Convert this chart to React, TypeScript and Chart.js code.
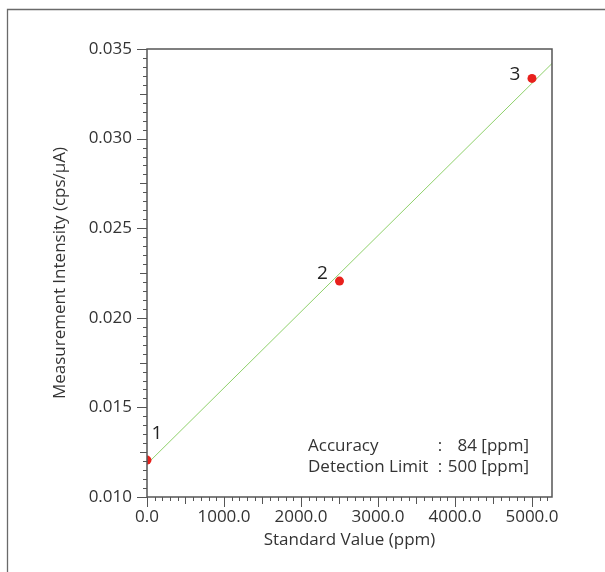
import React, { useEffect, useRef } from "react";
import { Chart, registerables } from "chart.js";

Chart.register(...registerables);

// ---- data ----
const standardValues = [0, 2500, 5000];
const intensities = [0.01206, 0.02205, 0.03336];
const pointLabels = ["1", "2", "3"];
const fitLineX = [0, 5260];
const fitLineY = [0.01184, 0.03419];
const xRange = [0, 5260];
const yRange = [0.01, 0.035];
const xMajorStep = 1000;
const xMinorStep = 100;
const yMajorStep = 0.005;
const yMinorStep = 0.0005;
const xTitle = "Standard Value (ppm)";
const yTitle = "Measurement Intensity (cps/μA)";
const infoNames = ["Accuracy", "Detection Limit"];
const infoValues = ["84 [ppm]", "500 [ppm]"];

// ---- styles ----
const FONT = "'Open Sans', 'Noto Sans', sans-serif";
const TEXT = "#333333";
const AXIS = "#555555";
const labelOffsets = [
  { dx: 10, dy: -21, align: "center" },
  { dx: -17, dy: -2, align: "center" },
  { dx: -17, dy: 2, align: "center" },
];

const isMultiple = (v: number, step: number) =>
  Math.abs(v / step - Math.round(v / step)) < 1e-6;

const decorPlugin = {
  id: "decor",
  beforeDraw(chart: any) {
    const ctx = chart.ctx;
    ctx.save();
    ctx.fillStyle = "#ffffff";
    ctx.fillRect(0, 0, chart.width, chart.height);
    ctx.strokeStyle = "#6a6a6a";
    ctx.lineWidth = 1.3;
    ctx.beginPath();
    ctx.moveTo(7.5, chart.height + 2);
    ctx.lineTo(7.5, 9.5);
    ctx.lineTo(chart.width + 2, 9.5);
    ctx.stroke();
    ctx.restore();
  },
  afterDraw(chart: any) {
    const ctx = chart.ctx;
    const { left, right, top, bottom } = chart.chartArea;
    const xs = chart.scales.x;
    const ys = chart.scales.y;
    ctx.save();
    // plot frame
    ctx.strokeStyle = AXIS;
    ctx.lineWidth = 1.5;
    ctx.strokeRect(left, top, right - left, bottom - top);
    // ticks
    ctx.lineWidth = 1;
    ctx.beginPath();
    xs.ticks.forEach((t: any) => {
      const v = t.value;
      const len = isMultiple(v, xMajorStep) ? 10 : isMultiple(v, xMajorStep / 2) ? 7 : 4;
      const px = Math.round(xs.getPixelForValue(v)) + 0.5;
      ctx.moveTo(px, bottom);
      ctx.lineTo(px, bottom + len);
    });
    ys.ticks.forEach((t: any) => {
      const v = t.value;
      const len = isMultiple(v, yMajorStep) ? 10 : isMultiple(v, yMajorStep / 2) ? 7 : 4;
      const py = Math.round(ys.getPixelForValue(v)) + 0.5;
      ctx.moveTo(left, py);
      ctx.lineTo(left - len, py);
    });
    ctx.stroke();
    // point labels
    ctx.fillStyle = "#222222";
    ctx.font = `19px ${FONT}`;
    ctx.textBaseline = "alphabetic";
    standardValues.forEach((x, i) => {
      const px = xs.getPixelForValue(x);
      const py = ys.getPixelForValue(intensities[i]);
      const o = labelOffsets[i];
      ctx.textAlign = o.align;
      ctx.fillText(pointLabels[i], px + o.dx, py + o.dy);
    });
    // info text
    ctx.fillStyle = TEXT;
    ctx.font = `17px ${FONT}`;
    const rowBase = [bottom - 46, bottom - 25];
    infoNames.forEach((name, i) => {
      ctx.textAlign = "left";
      ctx.fillText(name, right - 244, rowBase[i]);
      ctx.textAlign = "center";
      ctx.fillText(":", right - 112, rowBase[i]);
      ctx.textAlign = "right";
      ctx.fillText(infoValues[i], right - 23, rowBase[i]);
    });
    ctx.restore();
  },
};

export default function App() {
  const canvasRef = useRef<HTMLCanvasElement | null>(null);

  useEffect(() => {
    const canvas = canvasRef.current;
    if (!canvas) return;
    const chart = new Chart(canvas, {
      type: "scatter",
      data: {
        datasets: [
          {
            label: "Standards",
            data: standardValues.map((x, i) => ({ x, y: intensities[i] })),
            backgroundColor: "#e8201c",
            borderColor: "#e8201c",
            borderWidth: 0,
            pointRadius: 4.5,
            pointStyle: "circle",
          },
          {
            type: "line",
            label: "Fit",
            data: fitLineX.map((x, i) => ({ x, y: fitLineY[i] })),
            borderColor: "#8fd16b",
            borderWidth: 1,
            pointRadius: 0,
            fill: false,
          } as any,
        ],
      },
      options: {
        responsive: false,
        animation: false,
        devicePixelRatio: 1,
        layout: { padding: { top: 49, right: 53, left: 0, bottom: 0 } },
        plugins: {
          legend: { display: false },
          tooltip: { enabled: false },
        },
        scales: {
          x: {
            type: "linear",
            position: "bottom",
            min: xRange[0],
            max: xRange[1],
            grid: { display: false, drawTicks: false },
            border: { display: false },
            afterFit: (s: any) => {
              s.height = 75;
            },
            ticks: {
              stepSize: xMinorStep,
              autoSkip: false,
              includeBounds: false,
              maxTicksLimit: 1000,
              maxRotation: 0,
              minRotation: 0,
              padding: 10,
              color: TEXT,
              font: { family: FONT, size: 17 },
              callback: (v: any) => (isMultiple(Number(v), xMajorStep) ? Number(v).toFixed(1) : ""),
            },
            title: {
              display: true,
              text: xTitle,
              color: TEXT,
              font: { family: FONT, size: 17 },
              padding: { top: 0, bottom: 22 },
            },
          },
          y: {
            type: "linear",
            position: "left",
            min: yRange[0],
            max: yRange[1],
            grid: { display: false, drawTicks: false },
            border: { display: false },
            afterFit: (s: any) => {
              s.width = 147;
            },
            ticks: {
              stepSize: yMinorStep,
              autoSkip: false,
              includeBounds: false,
              maxTicksLimit: 1000,
              padding: 15,
              color: TEXT,
              font: { family: FONT, size: 17 },
              callback: (v: any) => (isMultiple(Number(v), yMajorStep) ? Number(v).toFixed(3) : ""),
            },
            title: {
              display: true,
              text: yTitle,
              color: TEXT,
              font: { family: FONT, size: 17 },
              padding: { top: 50, bottom: 0 },
            },
          },
        },
      },
      plugins: [decorPlugin as any],
    });
    return () => chart.destroy();
  }, []);

  return (
    <div style={{ position: "absolute", left: 0, top: 0, width: 605, height: 572 }}>
      <canvas ref={canvasRef} width={605} height={572} style={{ display: "block" }} />
    </div>
  );
}
